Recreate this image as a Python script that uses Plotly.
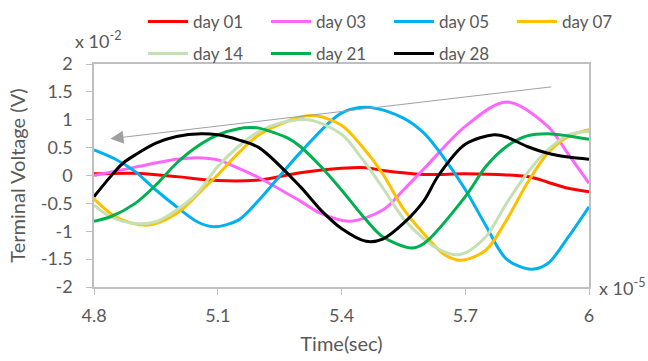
import plotly.graph_objects as go

# ---- data (time in 1e-5 s, voltage in 1e-2 V) ----
names = ["day 01", "day 03", "day 05", "day 07", "day 14", "day 21", "day 28"]
colors = ["#FF0000", "#FF66FF", "#00B0F0", "#FFC000", "#C5E0B4", "#00B050", "#000000"]

x_d01 = [4.8, 4.9, 5.0, 5.1, 5.2, 5.3, 5.4, 5.46, 5.5, 5.6, 5.7, 5.8, 5.86, 5.9, 5.95, 6.0]
y_d01 = [0.03, 0.04, -0.02, -0.09, -0.08, 0.05, 0.13, 0.14, 0.09, 0.02, 0.03, 0.01, -0.03, -0.12, -0.23, -0.29]

x_d03 = [4.8, 4.9, 5.0, 5.05, 5.1, 5.15, 5.2, 5.3, 5.35, 5.42, 5.5, 5.55, 5.6, 5.7, 5.8, 5.9, 5.95, 6.0]
y_d03 = [0.0, 0.15, 0.29, 0.32, 0.28, 0.13, -0.04, -0.46, -0.68, -0.82, -0.62, -0.26, 0.12, 0.88, 1.32, 0.88, 0.38, -0.14]

x_d05 = [4.8, 4.85, 4.9, 4.95, 5.0, 5.05, 5.09, 5.15, 5.2, 5.3, 5.4, 5.47, 5.55, 5.6, 5.65, 5.7, 5.75, 5.8, 5.86, 5.9, 5.95, 6.0]
y_d05 = [0.46, 0.3, 0.07, -0.26, -0.56, -0.83, -0.92, -0.8, -0.44, 0.41, 1.12, 1.22, 1.03, 0.76, 0.3, -0.25, -0.9, -1.5, -1.68, -1.58, -1.1, -0.56]

x_d07 = [4.8, 4.84, 4.87, 4.92, 4.95, 5.0, 5.03, 5.07, 5.1, 5.15, 5.2, 5.3, 5.34, 5.4, 5.45, 5.5, 5.55, 5.6, 5.65, 5.69, 5.75, 5.8, 5.85, 5.9, 5.95, 6.0]
y_d07 = [-0.42, -0.68, -0.8, -0.89, -0.86, -0.68, -0.5, -0.2, 0.01, 0.4, 0.73, 1.05, 1.07, 0.9, 0.52, 0.03, -0.6, -1.05, -1.42, -1.52, -1.34, -0.8, -0.14, 0.4, 0.7, 0.82]

x_d14 = [4.8, 4.84, 4.9, 4.95, 5.0, 5.05, 5.1, 5.15, 5.2, 5.25, 5.32, 5.4, 5.45, 5.5, 5.55, 5.6, 5.63, 5.675, 5.7, 5.75, 5.8, 5.85, 5.9, 5.95, 6.0]
y_d14 = [-0.53, -0.74, -0.86, -0.83, -0.62, -0.32, 0.16, 0.52, 0.79, 0.94, 1.0, 0.74, 0.3, -0.22, -0.77, -1.14, -1.3, -1.42, -1.39, -1.1, -0.5, 0.04, 0.46, 0.73, 0.79]

x_d21 = [4.8, 4.84, 4.9, 4.95, 5.0, 5.05, 5.1, 5.15, 5.18, 5.2, 5.27, 5.3, 5.35, 5.4, 5.46, 5.5, 5.57, 5.6, 5.7, 5.75, 5.8, 5.85, 5.9, 5.95, 6.0]
y_d21 = [-0.82, -0.74, -0.5, -0.17, 0.22, 0.52, 0.73, 0.84, 0.86, 0.85, 0.67, 0.52, 0.16, -0.26, -0.8, -1.1, -1.3, -1.22, -0.38, 0.16, 0.52, 0.71, 0.75, 0.71, 0.65]

x_d28 = [4.8, 4.84, 4.87, 4.9, 4.95, 5.0, 5.06, 5.1, 5.15, 5.2, 5.3, 5.35, 5.4, 5.46, 5.5, 5.55, 5.6, 5.635, 5.7, 5.77, 5.8, 5.85, 5.9, 5.95, 6.0]
y_d28 = [-0.38, -0.02, 0.22, 0.37, 0.58, 0.7, 0.75, 0.73, 0.64, 0.5, -0.2, -0.62, -0.95, -1.18, -1.14, -0.86, -0.45, 0.0, 0.56, 0.73, 0.69, 0.52, 0.4, 0.33, 0.29]

x_ticks = [4.8, 5.1, 5.4, 5.7, 6.0]
x_ticklabels = ["4.8", "5.1", "5.4", "5.7", "6"]
y_ticks = [-2, -1.5, -1, -0.5, 0, 0.5, 1, 1.5, 2]
y_ticklabels = ["-2", "-1.5", "-1", "-0.5", "0", "0.5", "1", "1.5", "2"]

# trend arrow (tail -> head) in data units
arrow_tail = (5.912, 1.593)
arrow_head = (4.84, 0.66)

xs = [x_d01, x_d03, x_d05, x_d07, x_d14, x_d21, x_d28]
ys = [y_d01, y_d03, y_d05, y_d07, y_d14, y_d21, y_d28]

FONT = "Lato"
GRAY = "#595959"
W, H = 648, 361

fig = go.Figure()
for i, (n, c, x, y) in enumerate(zip(names, colors, xs, ys)):
    fig.add_trace(go.Scatter(
        x=x, y=y, name=n, mode="lines",
        line=dict(color=c, width=3, shape="spline", smoothing=0.9),
        legend="legend" if i < 4 else "legend2",
    ))

axis_common = dict(
    showgrid=False, zeroline=False, showline=True, linecolor="#BFBFBF", linewidth=1.5,
    mirror=True, ticks="outside", ticklen=6, tickcolor="#BFBFBF", tickwidth=1,
    tickfont=dict(family=FONT, size=18, color=GRAY),
)

legend_common = dict(
    orientation="h", xref="container", yref="container",
    xanchor="left", yanchor="top",
    entrywidth=68, entrywidthmode="pixels", itemwidth=40,
    font=dict(family=FONT, size=17, color=GRAY),
    bgcolor="rgba(0,0,0,0)",
)

fig.update_layout(
    width=W, height=H,
    margin=dict(l=94, r=59, t=64, b=74, autoexpand=False),
    paper_bgcolor="white", plot_bgcolor="white",
    font=dict(family=FONT, color=GRAY),
    xaxis=dict(range=[4.8, 6.0], tickvals=x_ticks, ticktext=x_ticklabels,
               ticklabelstandoff=6,
               title=dict(text="Time(sec)", font=dict(family=FONT, size=20, color=GRAY), standoff=12),
               **axis_common),
    yaxis=dict(range=[-2, 2], tickvals=y_ticks, ticktext=y_ticklabels,
               ticklabelstandoff=10,
               title=dict(text="Terminal Voltage (V)", font=dict(family=FONT, size=20, color=GRAY), standoff=10),
               **axis_common),
    legend=dict(x=143 / W, y=1 - 4 / H, **legend_common),
    legend2=dict(x=143 / W, y=1 - 36 / H, **legend_common),
    showlegend=True,
)

fig.add_annotation(
    x=arrow_head[0], y=arrow_head[1], ax=arrow_tail[0], ay=arrow_tail[1],
    xref="x", yref="y", axref="x", ayref="y",
    showarrow=True, arrowhead=2, arrowsize=2.6, arrowwidth=1, arrowcolor="#A0A0A0", text="",
)

fig.add_annotation(
    text="x 10<sup>-2</sup>", xref="paper", yref="paper", x=(123 - 94) / 495, y=(287 - 40) / 223,
    xanchor="right", yanchor="middle", showarrow=False,
    font=dict(family=FONT, size=18, color=GRAY),
)
fig.add_annotation(
    text="x 10<sup>-5</sup>", xref="paper", yref="paper", x=(597 - 94) / 495, y=0.0,
    xanchor="left", yanchor="middle", showarrow=False,
    font=dict(family=FONT, size=18, color=GRAY),
)

fig.write_html("out.html")
